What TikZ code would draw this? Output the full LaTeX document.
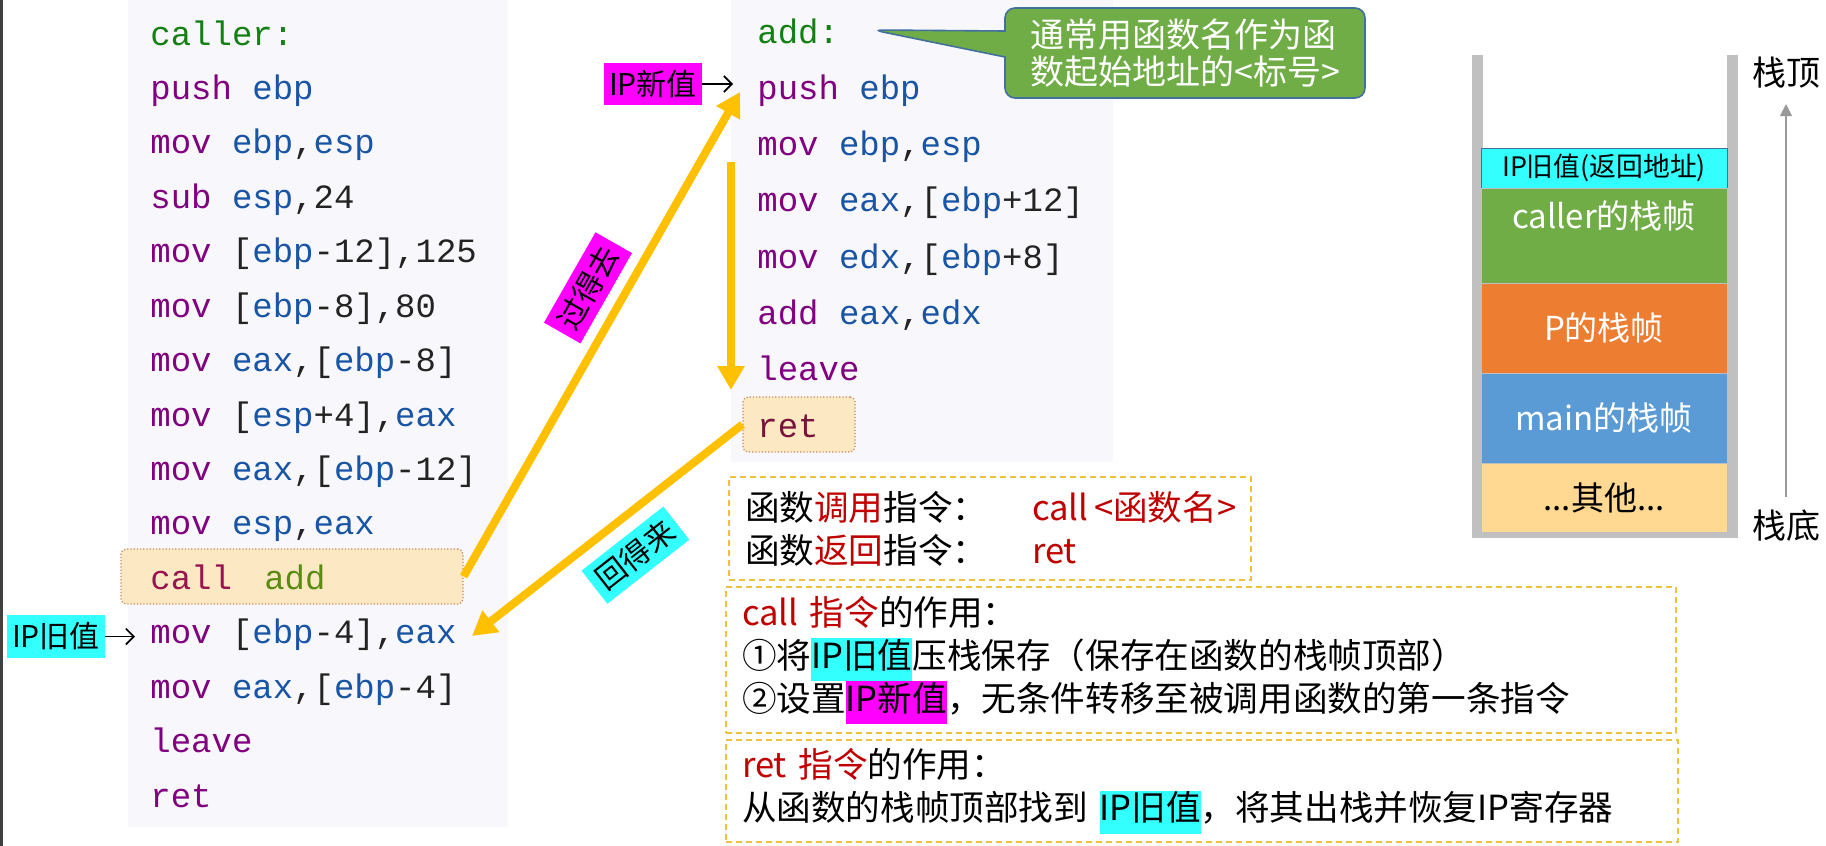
\documentclass[tikz,border=0pt]{standalone}
\usepackage{fontspec}
\setmainfont{Noto Sans CJK SC}
\newfontfamily\codefont{Liberation Mono}
\usetikzlibrary{arrows.meta,shapes.callouts}

\definecolor{panelbg}{RGB}{248,247,251}
\definecolor{opc}{RGB}{128,0,128}
\definecolor{regc}{RGB}{25,85,165}
\definecolor{lblc}{RGB}{20,128,20}
\definecolor{numc}{RGB}{35,35,35}
\definecolor{callc}{RGB}{150,20,80}
\definecolor{addc}{RGB}{90,140,20}
\definecolor{retc}{RGB}{120,20,60}
\definecolor{hlfill}{RGB}{253,232,196}
\definecolor{hledge}{RGB}{200,135,90}
\definecolor{flowc}{RGB}{255,192,0}
\definecolor{ipcyan}{RGB}{51,255,255}
\definecolor{ipmag}{RGB}{255,0,255}
\definecolor{notegreen}{RGB}{112,173,71}
\definecolor{noteedge}{RGB}{65,113,156}
\definecolor{keyred}{RGB}{192,0,0}
\definecolor{boxgold}{RGB}{240,192,64}
\definecolor{wallc}{RGB}{192,192,192}
\definecolor{frgreen}{RGB}{112,173,71}
\definecolor{frorange}{RGB}{237,125,49}
\definecolor{frblue}{RGB}{91,155,213}
\definecolor{frother}{RGB}{255,217,145}

\newcommand{\op}[1]{\textcolor{opc}{#1}}
\newcommand{\rg}[1]{\textcolor{regc}{#1}}
\newcommand{\rd}[1]{\textcolor{keyred}{#1}}
\newcommand{\hlc}[1]{{\setlength{\fboxsep}{0pt}\colorbox{ipcyan}{\strut #1}}}
\newcommand{\hlm}[1]{{\setlength{\fboxsep}{0pt}\colorbox{ipmag}{\strut #1}}}

\begin{document}
\begin{tikzpicture}[
  x=0.5pt, y=-0.5pt,
  codeln/.style={anchor=base west, inner sep=0pt, text=numc, font=\codefont\fontsize{17pt}{20pt}\selectfont},
  hlbox/.style={draw=hledge, densely dotted, fill=hlfill, rounded corners=2.5pt, line width=0.6pt},
  flow/.style={draw=flowc, line width=4pt, -{Triangle[length=12pt,width=13pt]}},
  ptr/.style={line width=0.8pt, -{Straight Barb[length=4pt,width=8pt]}},
  tag/.style={inner sep=0pt, text=black, font=\fontsize{15pt}{18pt}\selectfont},
  stackfr/.style={minimum width=123pt, inner sep=0pt, draw=black!25, line width=0.4pt, text=white, font=\fontsize{16.5pt}{19pt}\selectfont},
  infobox/.style={draw=boxgold, dash pattern=on 3pt off 2pt, line width=0.7pt, fill=white, align=left, inner xsep=8pt, inner ysep=0pt, font=\fontsize{17.3pt}{21.5pt}\selectfont},
  note/.style={rectangle callout, fill=notegreen, draw=noteedge, line width=0.8pt, rounded corners=5pt, text=white, align=left, inner xsep=10pt, font=\fontsize{17pt}{18.5pt}\selectfont}
]
\useasboundingbox (0,0) rectangle (1826,846);

% Code panels
\fill[black!75] (0,0) rectangle (3,846);
\fill[panelbg] (128,0) rectangle (508,827);
\fill[panelbg] (731,0) rectangle (1113,462);

% Highlighted instructions
\node[hlbox, minimum width=171pt, minimum height=27.5pt] (callbox) at (292,576.5) {};
\node[hlbox, minimum width=56pt, minimum height=27.5pt] (retbox) at (799,424.5) {};

% caller
\node[codeln] (c1) at (150,45) {\textcolor{lblc}{caller:}};
\node[codeln] (c2) at (150,99.4) {\op{push} \rg{ebp}};
\node[codeln] (c3) at (150,153.9) {\op{mov} \rg{ebp},\rg{esp}};
\node[codeln] (c4) at (150,208.3) {\op{sub} \rg{esp},24};
\node[codeln] (c5) at (150,262.7) {\op{mov} [\rg{ebp}-12],125};
\node[codeln] (c6) at (150,317.2) {\op{mov} [\rg{ebp}-8],80};
\node[codeln] (c7) at (150,371.6) {\op{mov} \rg{eax},[\rg{ebp}-8]};
\node[codeln] (c8) at (150,426.0) {\op{mov} [\rg{esp}+4],\rg{eax}};
\node[codeln] (c9) at (150,480.4) {\op{mov} \rg{eax},[\rg{ebp}-12]};
\node[codeln] (c10) at (150,534.9) {\op{mov} \rg{esp},\rg{eax}};
\node[codeln] (c11) at (150,589.3) {\textcolor{callc}{call}\hspace{0.95em}\textcolor{addc}{add}};
\node[codeln] (c12) at (150,643.7) {\op{mov} [\rg{ebp}-4],\rg{eax}};
\node[codeln] (c13) at (150,698.2) {\op{mov} \rg{eax},[\rg{ebp}-4]};
\node[codeln] (c14) at (150,752.6) {\op{leave}};
\node[codeln] (c15) at (150,807.0) {\op{ret}};

% add
\node[codeln] (a1) at (757,43) {\textcolor{lblc}{add:}};
\node[codeln] (a2) at (757,99.3) {\op{push} \rg{ebp}};
\node[codeln] (a3) at (757,155.6) {\op{mov} \rg{ebp},\rg{esp}};
\node[codeln] (a4) at (757,211.9) {\op{mov} \rg{eax},[\rg{ebp}+12]};
\node[codeln] (a5) at (757,268.2) {\op{mov} \rg{edx},[\rg{ebp}+8]};
\node[codeln] (a6) at (757,324.5) {\op{add} \rg{eax},\rg{edx}};
\node[codeln] (a7) at (757,380.8) {\op{leave}};
\node[codeln] (a8) at (757,437.1) {\textcolor{retc}{ret}};

% IP markers
\node[tag, fill=ipcyan, minimum width=49pt, minimum height=21.5pt] (ipold) at (56,636.5) {IP旧值};
\node[tag, fill=ipmag, minimum width=49pt, minimum height=21pt] (ipnew) at (653,84) {IP新值};
\draw[ptr, shorten >=7.5pt] (ipold) -- (ipold -| c12.west);
\draw[ptr, shorten >=12pt] (ipnew) -- (ipnew -| a2.west);

% Control flow
\coordinate (gotip) at (740,92);
\coordinate (dtop) at (731,162);
\coordinate (dend) at (731,390);
\coordinate (backtip) at (472,636);
\draw[flow] (callbox.east) -- (gotip)
  node[tag, fill=ipmag, minimum width=52pt, minimum height=21pt, sloped, above=5pt, pos=0.56] (golbl) {过得去};
\draw[flow] (dtop) -- (dend);
\draw[flow] (retbox.west) -- (backtip)
  node[tag, fill=ipcyan, minimum width=52pt, minimum height=21pt, sloped, below=6pt, pos=0.48] (backlbl) {回得来};

% Callout
\coordinate (notetip) at (873,30);
\node[note, minimum width=180pt, minimum height=45pt, callout absolute pointer=(notetip), callout pointer width=13pt] (hint) at (1185,53)
  {通常用函数名作为函\\数起始地址的<标号>};

% Stack
\fill[wallc] (1472,55) rectangle (1483,538);
\fill[wallc] (1727,55) rectangle (1738,538);
\fill[wallc] (1472,532) rectangle (1738,538);
\node[stackfr, fill=ipcyan, draw=noteedge, minimum height=20pt, text=black, font=\fontsize{13.4pt}{15pt}\selectfont] (ipret) at (1604,168) {IP旧值(返回地址)};
\node[stackfr, fill=frgreen, minimum height=47.5pt, text height=20pt, text depth=27.5pt] (callerfr) at (1604,235.5) {caller的栈帧};
\node[stackfr, fill=frorange, minimum height=45pt] (pfr) at (1604,328) {P的栈帧};
\node[stackfr, fill=frblue, minimum height=45pt] (mainfr) at (1604,418) {main的栈帧};
\node[stackfr, fill=frother, minimum height=34.5pt, text=black] (otherfr) at (1604,497.5) {...其他...};
\node[tag, font=\fontsize{17pt}{20pt}\selectfont] (sttop) at (1786,73) {栈顶};
\node[tag, font=\fontsize{17pt}{20pt}\selectfont] (stbot) at (1786,526) {栈底};
\draw[black!40, line width=0.6pt, -{Triangle[length=6pt,width=6pt]}, shorten <=6.5pt, shorten >=7.5pt] (stbot) -- (sttop);

% Notes
\node[infobox, minimum width=261pt, minimum height=51.5pt, text width=245pt] (instr) at (990,528.5)
  {\mbox{\makebox[143.5pt][l]{函数\rd{调用}指令：}\rd{call\,<函数名>}}\\
   \mbox{\makebox[143.5pt][l]{函数\rd{返回}指令：}\rd{ret}}};
\node[infobox, minimum width=475pt, minimum height=73pt, text width=459pt] (callnote) at (1201,660)
  {\rd{call 指令}的作用：\\
   ①将\hlc{IP旧值}压栈保存（保存在函数的栈帧顶部）\\
   ②设置\hlm{IP新值}，无条件转移至被调用函数的第一条指令};
\node[infobox, minimum width=476pt, minimum height=51pt, text width=460pt] (retnote) at (1202,791)
  {\rd{ret 指令}的作用：\\
   从函数的栈帧顶部找到 \hlc{IP旧值}，将其出栈并恢复IP寄存器};

\end{tikzpicture}
\end{document}
